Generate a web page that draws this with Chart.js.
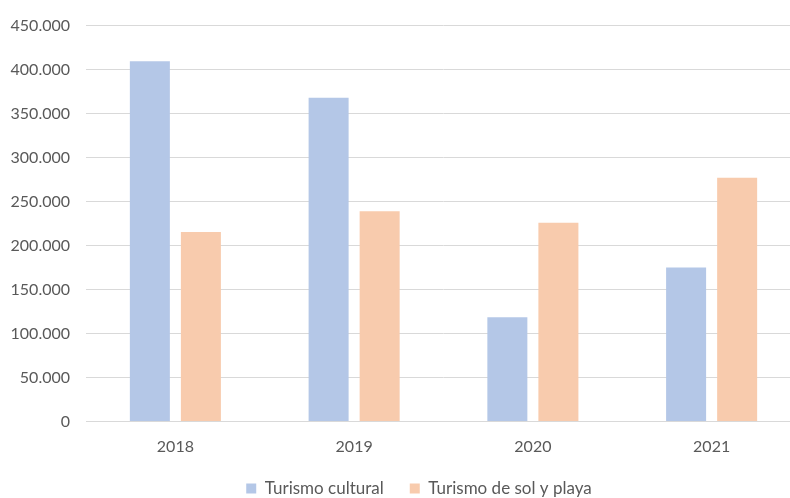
<!DOCTYPE html>
<html>
<head>
<meta charset="utf-8">
<script src="https://cdn.jsdelivr.net/npm/chart.js@4"></script>
<style>
  html, body { margin: 0; padding: 0; background: #fff; overflow: hidden; }
  #wrap { width: 838px; height: 507px; }
</style>
</head>
<body>
<div id="wrap"><canvas id="turismo" width="838" height="507"></canvas></div>
<script>
var years = ['2018', '2019', '2020', '2021'];
var turismoCultural = [409500, 368000, 118500, 175000];
var turismoSolPlaya = [215500, 239000, 226000, 277000];
var yTicks = [0, 50000, 100000, 150000, 200000, 250000, 300000, 350000, 400000, 450000];

var textColor = '#595959';
var gridColor = '#d9d9d9';

// thousands separated with a dot, as in es-ES
function formatMiles(v) {
  return String(v).replace(/\B(?=(\d{3})+(?!\d))/g, '.');
}

var data = {
  labels: years,
  datasets: [{
    label: 'Turismo cultural',
    data: turismoCultural,
    backgroundColor: '#b4c7e7',
    borderWidth: 0,
  }, {
    label: 'Turismo de sol y playa',
    data: turismoSolPlaya,
    backgroundColor: '#f8cbad',
    borderWidth: 0,
  }],
};

var options = {
  responsive: false,
  animation: false,
  maintainAspectRatio: false,
  layout: { padding: { top: 25, right: 0, left: 0, bottom: 0 } },
  datasets: {
    bar: { categoryPercentage: 0.571, barPercentage: 0.784 },
  },
  plugins: {
    title: { display: false },
    tooltip: { enabled: false },
    legend: {
      display: true,
      position: 'bottom',
      labels: {
        boxWidth: 10,
        boxHeight: 10,
        padding: 26,
        color: textColor,
        font: { family: 'Lato, sans-serif', size: 17 },
      },
    },
  },
  scales: {
    x: {
      grid: { display: false, drawTicks: false },
      border: { display: true, color: gridColor, width: 1 },
      ticks: {
        color: textColor,
        padding: 16,
        font: { family: 'Lato, sans-serif', size: 16 },
      },
      afterFit: function (scale) { scale.height = 32.5; },
    },
    y: {
      min: 0,
      max: 450000,
      afterBuildTicks: function (scale) {
        scale.ticks = yTicks.map(function (v) { return { value: v }; });
      },
      grid: { color: gridColor, lineWidth: 1, drawTicks: false },
      border: { display: false },
      ticks: {
        color: textColor,
        padding: 16,
        font: { family: 'Lato, sans-serif', size: 16 },
        callback: function (v) { return formatMiles(v); },
      },
      afterFit: function (scale) { scale.width = 86; },
    },
    // empty strip on the right so the plot stops short of the canvas edge
    spacer: {
      type: 'linear',
      position: 'right',
      display: true,
      grid: { display: false, drawTicks: false },
      border: { display: false },
      ticks: { display: false },
      afterFit: function (scale) { scale.width = 37; },
    },
  },
};

new Chart(document.getElementById('turismo'), {
  type: 'bar',
  data: data,
  options: options,
});
</script>
</body>
</html>
